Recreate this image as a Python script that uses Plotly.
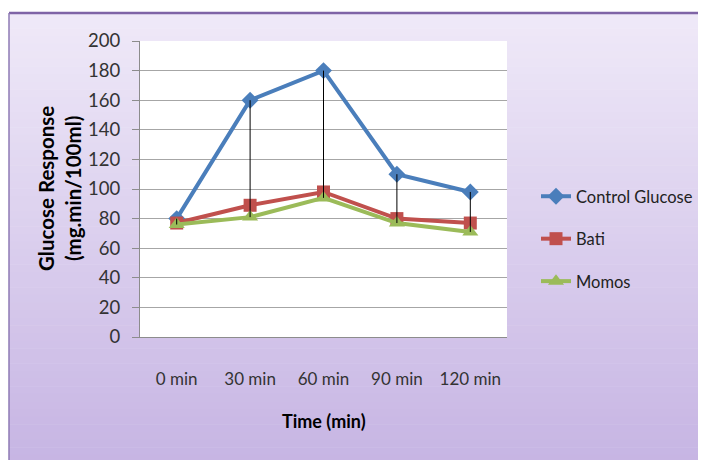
import plotly.graph_objects as go

# ---- data ----
categories = ["0 min", "30 min", "60 min", "90 min", "120 min"]
control_glucose = [80, 160, 180, 110, 98]
bati = [77, 89, 98, 80, 77]
momos = [76, 81, 94, 77, 71]
y_ticks = list(range(0, 201, 20))

# ---- layout constants ----
OFF = 8                      # page body margin offset
W, H = 706 - OFF, 460 - OFF
PL, PR, PT, PB = 140, 507, 41, 337   # plot area in window pixels
ML, MR, MT, MB = PL - OFF, W - (PR - OFF), PT - OFF, H - (PB - OFF)
PW, PH = W - ML - MR, H - MT - MB
FONT = "Lato, Roboto, sans-serif"


def px_x(px):
    return (px - PL) / PW


def px_y(py):
    return (PB - py) / PH


fig = go.Figure()

series = [
    ("Control Glucose", control_glucose, "#4A7EBB", "diamond", 13),
    ("Bati", bati, "#C0504D", "square", 13),
    ("Momos", momos, "#9BBB59", "triangle-up", 14),
]
for name, vals, col, sym, sz in series:
    fig.add_trace(go.Scatter(
        x=categories, y=vals, name=name, mode="lines+markers",
        line=dict(color=col, width=4),
        marker=dict(symbol=sym, size=sz, color=col),
        legendgroup=name,
    ))

# high-low lines (from highest to lowest series at each category)
hx, hy = [], []
for c, hi, lo in zip(categories, control_glucose, momos):
    hx += [c, c, None]
    hy += [hi, lo, None]
fig.add_trace(go.Scatter(x=hx, y=hy, mode="lines", showlegend=False,
                         line=dict(color="black", width=1), hoverinfo="skip"))

# gradient background frame
shapes = []
top_c = (0xEF, 0xE9, 0xF8)
bot_c = (0xC6, 0xB4, 0xE3)
y_top, y_bot = 13, 470
n = 60
for i in range(n):
    t = i / (n - 1)
    c = tuple(round(top_c[k] + (bot_c[k] - top_c[k]) * t) for k in range(3))
    y0 = y_top + (y_bot - y_top) * i / n
    y1 = y_top + (y_bot - y_top) * (i + 1) / n + 0.5
    shapes.append(dict(type="rect", xref="paper", yref="paper", layer="below",
                       x0=px_x(9), x1=px_x(720), y0=px_y(y1), y1=px_y(y0),
                       fillcolor="rgb(%d,%d,%d)" % c, line=dict(width=0)))
# white plot area
shapes.append(dict(type="rect", xref="paper", yref="paper", layer="below",
                   x0=0, x1=1, y0=0, y1=1, fillcolor="white", line=dict(width=0)))
# frame border (top and left)
shapes.append(dict(type="line", xref="paper", yref="paper", layer="above",
                   x0=px_x(9), x1=px_x(720), y0=px_y(13), y1=px_y(13),
                   line=dict(color="#7F64A6", width=2.5)))
shapes.append(dict(type="line", xref="paper", yref="paper", layer="above",
                   x0=px_x(9), x1=px_x(9), y0=px_y(13), y1=px_y(470),
                   line=dict(color="#8E7AB4", width=1.5)))

annotations = [
    dict(text="<b>Glucose Response<br>(mg.min/100ml)</b>", xref="paper", yref="paper",
         x=px_x(59), y=0.5, xanchor="center", yanchor="middle", textangle=-90,
         showarrow=False, font=dict(family=FONT, size=20.5, color="black")),
    dict(text="<b>Time (min)</b>", xref="paper", yref="paper",
         x=0.5, y=px_y(421), xanchor="center", yanchor="middle",
         showarrow=False, font=dict(family=FONT, size=18, color="black")),
]

fig.update_layout(
    width=W, height=H,
    margin=dict(l=ML, r=MR, t=MT, b=MB, pad=0),
    paper_bgcolor="white", plot_bgcolor="rgba(0,0,0,0)",
    font=dict(family=FONT, size=17, color="#333333"),
    shapes=shapes, annotations=annotations,
    showlegend=True,
    legend=dict(xref="container", yref="container",
                x=(536 - OFF) / W, y=1 - (239 - OFF) / H, xanchor="left", yanchor="middle",
                bgcolor="rgba(0,0,0,0)", font=dict(family=FONT, size=16.5, color="#222222"),
                tracegroupgap=18, itemwidth=30),
    xaxis=dict(range=[-0.5, 4.5], showgrid=False, showline=True, linecolor="#8C8C8C",
               linewidth=1, ticks="", ticklabelstandoff=27,
               tickfont=dict(size=17, color="#333333"), fixedrange=True),
    yaxis=dict(range=[0, 200], tickvals=y_ticks, showgrid=True, gridcolor="#A6A6A6",
               gridwidth=1, showline=True, linecolor="#8C8C8C", linewidth=1,
               ticks="outside", ticklen=7, tickcolor="#8C8C8C", zeroline=False,
               tickfont=dict(size=18.5, color="#333333"), ticklabelstandoff=8),
)

fig.write_html("out.html")
